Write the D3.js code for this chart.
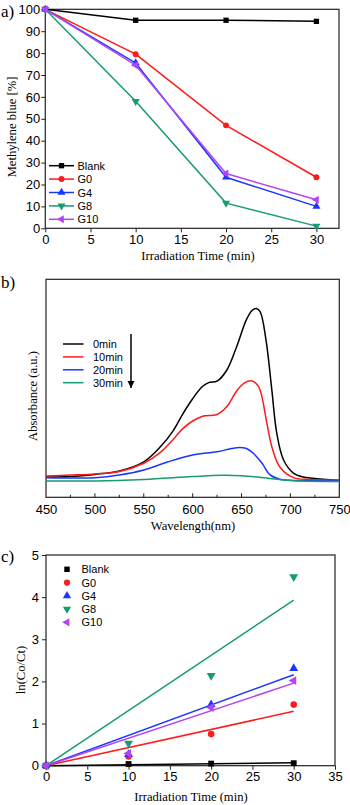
<!DOCTYPE html>
<html><head><meta charset="utf-8">
<script src="https://cdn.jsdelivr.net/npm/d3@7"></script>
<style>
body{margin:0;background:#fff}
svg{display:block}
.tick text{font-family:"Liberation Sans",Arial,sans-serif;font-size:13px;fill:#000}
.ttl{font-family:"Liberation Serif","Times New Roman",serif;font-size:12.6px}
.lab{font-family:"Liberation Serif","Times New Roman",serif;font-size:17px}
.leg{font-family:"Liberation Sans",Arial,sans-serif;font-size:11px}
</style>
</head><body>
<svg id="fig" width="350" height="805"></svg>
<script>
// ---- data ----
var times = [0, 10, 20, 30];
var sampleNames = ["Blank", "G0", "G4", "G8", "G10"];
var sampleColors = ["#000000", "#ff1a1a", "#1a35ff", "#179b70", "#b244f2"];
var sampleShapes = ["square", "circle", "up", "down", "left"];

// a) methylene blue remaining [%]
var mbBlank = [100, 95, 95, 94.5];
var mbG0 = [100, 79.5, 47, 23.3];
var mbG4 = [100, 75.5, 23.3, 10];
var mbG8 = [100, 58, 11.5, 1];
var mbG10 = [100, 74.5, 25, 13];
var mbSeries = [mbBlank, mbG0, mbG4, mbG8, mbG10];

// b) absorbance spectra (a.u.)
var specNames = ["0min", "10min", "20min", "30min"];
var specColors = ["#000000", "#ff1a1a", "#1a35ff", "#179b70"];
var spec0 = [[450,0.093],[475,0.095],[500,0.105],[525,0.121],[550,0.163],[567,0.232],[580,0.305],[590,0.383],[600,0.452],[610,0.508],[617,0.527],[625,0.533],[635,0.584],[645,0.691],[655,0.815],[661,0.858],[665,0.866],[669,0.852],[675,0.722],[681,0.492],[686,0.295],[693,0.171],[703,0.111],[713,0.093],[723,0.087],[750,0.077]];
var spec10 = [[450,0.098],[475,0.102],[500,0.107],[525,0.118],[550,0.156],[567,0.206],[580,0.265],[590,0.315],[600,0.350],[611,0.373],[625,0.380],[635,0.416],[645,0.488],[653,0.525],[660,0.535],[665,0.522],[669,0.492],[676,0.339],[681,0.232],[689,0.140],[703,0.090],[720,0.082],[750,0.079]];
var spec20 = [[450,0.090],[500,0.090],[525,0.102],[550,0.125],[575,0.163],[600,0.194],[625,0.209],[640,0.224],[648,0.229],[655,0.224],[662,0.202],[671,0.156],[679,0.104],[689,0.083],[700,0.078],[750,0.075]];
var spec30 = [[450,0.075],[500,0.075],[550,0.082],[600,0.095],[630,0.101],[650,0.099],[675,0.089],[700,0.077],[750,0.072]];
var specSeries = [spec0, spec10, spec20, spec30];

// c) ln(C0/Ct) and fitted slopes (per min)
var lnBlank = [0, 0.04, 0.05, 0.06];
var lnG0 = [0, 0.22, 0.75, 1.45];
var lnG4 = [0, 0.27, 1.45, 2.31];
var lnG8 = [0, 0.53, 2.14, 4.48];
var lnG10 = [0, 0.29, 1.38, 2.02];
var lnSeries = [lnBlank, lnG0, lnG4, lnG8, lnG10];
var fitSlope = [0.0023, 0.043, 0.072, 0.131, 0.0653];

var svg = d3.select("#fig");

function sym(shape, size) {
  var t = shape == "square" ? d3.symbolSquare : shape == "circle" ? d3.symbolCircle : d3.symbolTriangle;
  return d3.symbol().type(t).size(size)();
}
function rot(shape) {
  if (shape == "down") return " rotate(180)";
  if (shape == "left") return " rotate(-90)";
  return "";
}

function frame(g, x, y) {
  var r = x.range(), s = y.range();
  g.append("rect").attr("x", r[0]).attr("y", s[1]).attr("width", r[1] - r[0]).attr("height", s[0] - s[1])
    .attr("fill", "none").attr("stroke", "#222").attr("stroke-width", 1.2);
}

// ================= a) =================
var xa = d3.scaleLinear().domain([0, 32.5]).range([45.3, 339]);
var ya = d3.scaleLinear().domain([0, 100]).range([228.3, 9.3]);
var ga = svg.append("g");
ga.append("g").attr("transform", "translate(0," + ya(0) + ")")
  .call(d3.axisBottom(xa).tickValues(d3.range(0, 31, 5)).tickSize(4).tickPadding(2))
  .call(function(g){ g.select(".domain").remove(); });
ga.append("g").attr("transform", "translate(" + xa(0) + ",0)")
  .call(d3.axisLeft(ya).tickValues(d3.range(0, 101, 10)).tickSize(4).tickPadding(1))
  .call(function(g){ g.select(".domain").remove(); });
frame(ga, xa, ya);
mbSeries.forEach(function(s, i) {
  var pts = s.map(function(v, j){ return [times[j], v]; });
  ga.append("path").attr("d", d3.line().x(function(d){return xa(d[0]);}).y(function(d){return ya(d[1]);})(pts))
    .attr("fill", "none").attr("stroke", sampleColors[i]).attr("stroke-width", 1.5);
  ga.selectAll(null).data(pts).enter().append("path")
    .attr("d", sym(sampleShapes[i], 28))
    .attr("transform", function(d){ return "translate(" + xa(d[0]) + "," + ya(d[1]) + ")" + rot(sampleShapes[i]); })
    .attr("fill", sampleColors[i]);
});
// legend a
sampleNames.forEach(function(n, i) {
  var yy = 165.7 + i * 13.4;
  ga.append("line").attr("x1", 49).attr("x2", 74).attr("y1", yy).attr("y2", yy)
    .attr("stroke", sampleColors[i]).attr("stroke-width", 1.5);
  ga.append("path").attr("d", sym(sampleShapes[i], 28))
    .attr("transform", "translate(61.5," + yy + ")" + rot(sampleShapes[i])).attr("fill", sampleColors[i]);
  ga.append("text").attr("class", "leg").attr("x", 77.5).attr("y", yy + 4).text(n);
});
ga.append("text").attr("class", "ttl").attr("x", 198).attr("y", 260).attr("text-anchor", "middle").text("Irradiation Time (min)");
ga.append("text").attr("class", "ttl").attr("transform", "translate(16,127) rotate(-90)").attr("text-anchor", "middle").text("Methylene blue [%]");
ga.append("text").attr("class", "lab").attr("x", 1).attr("y", 17).text("a)");

// ================= b) =================
var xb = d3.scaleLinear().domain([450, 750]).range([46, 339.3]);
var yb = d3.scaleLinear().domain([0, 1]).range([497.3, 279.3]);
var gb = svg.append("g");
gb.append("g").attr("transform", "translate(0," + yb(0) + ")")
  .call(d3.axisBottom(xb).tickValues(d3.range(450, 751, 50)).tickSize(0).tickPadding(7))
  .call(function(g){ g.select(".domain").remove(); });
// inward ticks on bottom
gb.selectAll(null).data(d3.range(475, 750, 25)).enter().append("line")
  .attr("x1", function(d){return xb(d);}).attr("x2", function(d){return xb(d);})
  .attr("y1", yb(0)).attr("y2", function(d){ return yb(0) - (d % 50 == 0 ? 4 : 2.5); })
  .attr("stroke", "#222");
frame(gb, xb, yb);
specSeries.forEach(function(s, i) {
  gb.append("path").attr("d", d3.line().curve(d3.curveCatmullRom.alpha(0.5))
      .x(function(d){return xb(d[0]);}).y(function(d){return yb(d[1]);})(s))
    .attr("fill", "none").attr("stroke", specColors[i]).attr("stroke-width", 1.5);
});
specNames.forEach(function(n, i) {
  var yy = 344 + i * 12.9;
  gb.append("line").attr("x1", 63).attr("x2", 83.5).attr("y1", yy).attr("y2", yy)
    .attr("stroke", specColors[i]).attr("stroke-width", 1.5);
  gb.append("text").attr("class", "leg").attr("x", 93).attr("y", yy + 4).text(n);
});
svg.append("defs").append("marker").attr("id", "ah").attr("viewBox", "0 -5 10 10")
  .attr("refX", 10).attr("markerWidth", 5).attr("markerHeight", 5).attr("orient", "auto")
  .append("path").attr("d", "M0,-5L10,0L0,5Z").attr("fill", "#000");
gb.append("line").attr("x1", 131).attr("x2", 131).attr("y1", 334).attr("y2", 388)
  .attr("stroke", "#000").attr("stroke-width", 1.5).attr("marker-end", "url(#ah)");
gb.append("text").attr("class", "ttl").attr("x", 193).attr("y", 530).attr("text-anchor", "middle").text("Wavelength(nm)");
gb.append("text").attr("class", "ttl").attr("transform", "translate(37,396) rotate(-90)").attr("text-anchor", "middle").text("Absorbance (a.u.)");
gb.append("text").attr("class", "lab").attr("x", 1).attr("y", 288).text("b)");

// ================= c) =================
var xc = d3.scaleLinear().domain([0, 35]).range([46, 335]);
var yc = d3.scaleLinear().domain([0, 5]).range([765.7, 555]);
var gc = svg.append("g");
gc.append("g").attr("transform", "translate(0," + yc(0) + ")")
  .call(d3.axisBottom(xc).tickValues(d3.range(0, 36, 5)).tickSize(4).tickPadding(2))
  .call(function(g){ g.select(".domain").remove(); });
gc.append("g").attr("transform", "translate(" + xc(0) + ",0)")
  .call(d3.axisLeft(yc).tickValues(d3.range(0, 6, 1)).tickFormat(d3.format("d")).tickSize(4).tickPadding(3))
  .call(function(g){ g.select(".domain").remove(); });
frame(gc, xc, yc);
fitSlope.forEach(function(k, i) {
  gc.append("line").attr("x1", xc(0)).attr("y1", yc(0)).attr("x2", xc(30)).attr("y2", yc(k * 30))
    .attr("stroke", sampleColors[i]).attr("stroke-width", 1.5);
});
lnSeries.forEach(function(s, i) {
  var pts = s.map(function(v, j){ return [times[j], v]; });
  gc.selectAll(null).data(pts).enter().append("path")
    .attr("d", sym(sampleShapes[i], 34))
    .attr("transform", function(d){ return "translate(" + xc(d[0]) + "," + yc(d[1]) + ")" + rot(sampleShapes[i]); })
    .attr("fill", sampleColors[i]);
});
sampleNames.forEach(function(n, i) {
  var yy = 569.3 + i * 13.25;
  gc.append("path").attr("d", sym(sampleShapes[i], 30))
    .attr("transform", "translate(67," + yy + ")" + rot(sampleShapes[i])).attr("fill", sampleColors[i]);
  gc.append("text").attr("class", "leg").attr("x", 81.5).attr("y", yy + 4).text(n);
});
gc.append("text").attr("class", "ttl").attr("x", 191).attr("y", 801).attr("text-anchor", "middle").text("Irradiation Time (min)");
gc.append("text").attr("class", "ttl").attr("transform", "translate(24.5,670) rotate(-90)").attr("text-anchor", "middle").text("ln(Co/Ct)");
gc.append("text").attr("class", "lab").attr("x", 1).attr("y", 562).text("c)");

svg.selectAll(".tick line").attr("stroke", "#222");
</script>
</body></html>
